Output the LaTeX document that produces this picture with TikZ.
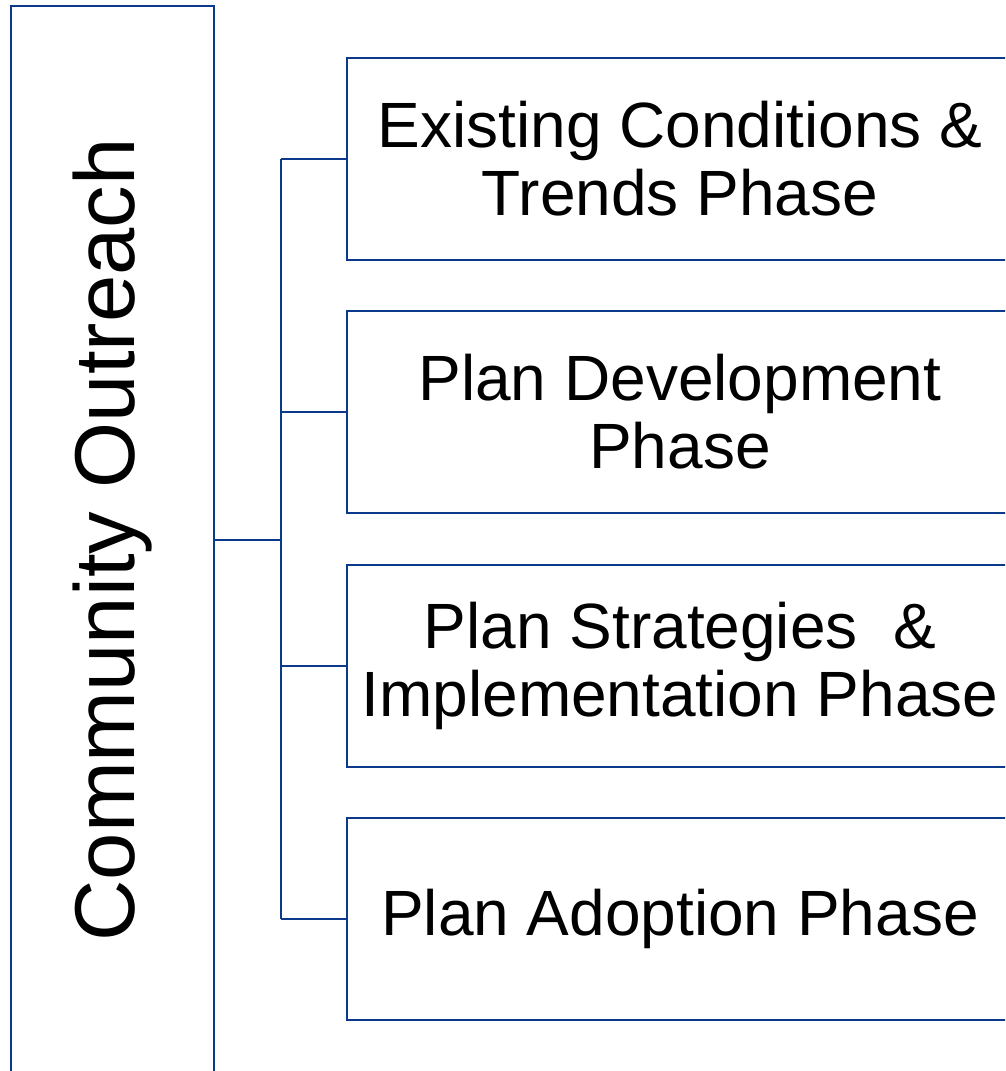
\documentclass[tikz,border=0pt]{standalone}
\usepackage{fontspec}
\setmainfont{Liberation Sans}
\definecolor{outlineblue}{HTML}{0B3A8C}

\begin{document}
\begin{tikzpicture}[x=1pt, y=-1pt,
    frame/.style={draw=outlineblue, line width=2.2pt, inner sep=0pt},
    phasebox/.style={frame, minimum width=666pt, minimum height=202pt, align=center,
        font=\fontsize{64}{68}\selectfont},
    link/.style={outlineblue, line width=2.2pt}]
    % Page area, the boxes run off the edges
    \useasboundingbox (0,0) rectangle (1005,1071);
    \clip (0,0) rectangle (1005,1071);

    % Outreach column
    \node[frame, minimum width=203pt, minimum height=1068pt,
        font=\fontsize{85}{85}\selectfont] (outreach) at (112.5,540)
        {\rotatebox{90}{Community Outreach}};

    % Phases
    \node[phasebox] (p1) at (680,159) {Existing Conditions \&\\Trends Phase};
    \node[phasebox] (p2) at (680,412) {Plan Development\\Phase};
    \node[phasebox] (p3) at (680,666) {Plan Strategies~ \&\\Implementation Phase};
    \node[phasebox] (p4) at (680,919) {Plan Adoption Phase};

    % Bus lines
    \coordinate (bus) at (281,540);
    \draw[link] (outreach.east) -- (bus);
    \draw[link] (bus |- p1.west) -- (bus |- p4.west);
    \foreach \i in {1,...,4}
        \draw[link] (bus |- p\i.west) -- (p\i.west);
\end{tikzpicture}
\end{document}
